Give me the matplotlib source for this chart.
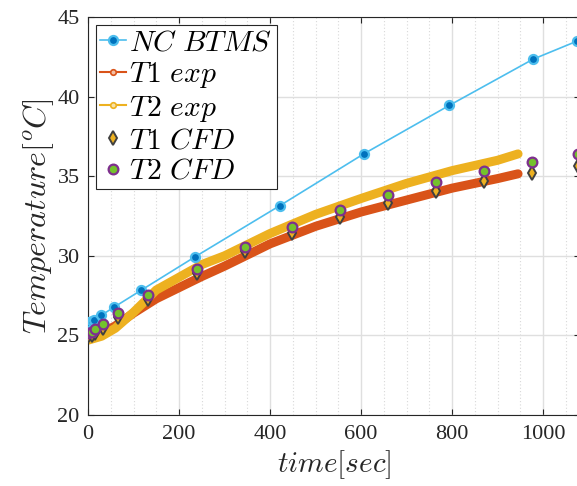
import matplotlib
matplotlib.use("Agg")
import matplotlib.pyplot as plt
from matplotlib.lines import Line2D
from matplotlib.ticker import MultipleLocator

# ---- data ----
nc_t = [0, 9, 14, 29, 57, 117, 236, 421, 607, 794, 978, 1075]
nc_T = [25.82, 25.88, 25.95, 26.26, 26.77, 27.84, 29.95, 33.14, 36.42, 39.45, 42.35, 43.49]

exp_t = [0, 30, 60, 100, 150, 200, 250, 300, 400, 500, 600, 700, 800, 900, 945]
t1_exp = [24.85, 25.15, 25.6, 26.4, 27.3, 28.0, 28.7, 29.35, 30.75, 31.85, 32.75, 33.5, 34.25, 34.85, 35.15]
t2_exp = [24.7, 24.95, 25.45, 26.45, 27.85, 28.65, 29.45, 30.0, 31.4, 32.6, 33.6, 34.55, 35.35, 36.0, 36.4]

cfd_t = [0, 9, 15, 33, 66, 132, 240, 345, 449, 554, 660, 765, 871, 976, 1076]
t1_cfd = [24.95, 25.0, 25.15, 25.45, 26.15, 27.3, 28.95, 30.3, 31.45, 32.44, 33.33, 34.09, 34.72, 35.22, 35.66]
t2_cfd = [25.13, 25.19, 25.38, 25.69, 26.39, 27.52, 29.16, 30.55, 31.81, 32.89, 33.83, 34.65, 35.35, 35.91, 36.42]

labels = [r"$NC\ BTMS$", r"$T1\ exp$", r"$T2\ exp$", r"$T1\ CFD$", r"$T2\ CFD$"]
xticks = [0, 200, 400, 600, 800, 1000]
yticks = [20, 25, 30, 35, 40, 45]

# ---- style ----
plt.rcParams["mathtext.fontset"] = "cm"
plt.rcParams["font.family"] = ["Liberation Serif", "DejaVu Serif"]

c_blue_line = "#4DBEEE"
c_blue_face = "#0072BD"
c_orange = "#D95319"
c_yellow = "#EDB120"
c_green = "#74C22C"
c_purple = "#7E2F8E"
c_dark = "#404040"
c_axis = "#262626"

fig = plt.figure(figsize=(5.77, 4.86), dpi=100)
ax = fig.add_axes([88 / 577, 71 / 486, 491.5 / 577, 398 / 486])

ax.plot(nc_t, nc_T, "-o", color=c_blue_line, lw=1.2, ms=6.5,
        mfc=c_blue_face, mec=c_blue_line, mew=1.6, zorder=3)
ax.plot(exp_t, t1_exp, "-", color=c_orange, lw=6.5, solid_capstyle="round",
        solid_joinstyle="round", zorder=2)
ax.plot(exp_t, t2_exp, "-", color=c_yellow, lw=6.5, solid_capstyle="round",
        solid_joinstyle="round", zorder=2.1)
ax.plot(cfd_t, t1_cfd, "d", ms=7.5, mfc=c_yellow, mec=c_dark, mew=1.4, zorder=4)
ax.plot(cfd_t, t2_cfd, "o", ms=7, mfc=c_green, mec=c_purple, mew=1.6, zorder=4.1)

ax.set_xlim(0, 1080)
ax.set_ylim(20, 45)
ax.set_xticks(xticks)
ax.set_yticks(yticks)
ax.xaxis.set_minor_locator(MultipleLocator(50))

ax.grid(True, which="major", color="#dfdfdf", lw=1.0, ls="-")
ax.grid(True, which="minor", axis="x", color="#d8d8d8", lw=0.8, ls=(0, (1, 2)))
ax.set_axisbelow(True)

ax.tick_params(which="major", direction="in", length=4.5, width=0.8, color=c_axis,
               top=True, right=True, labelsize=16, labelcolor=c_axis)
ax.tick_params(axis="x", which="major", pad=7)
ax.tick_params(axis="y", which="major", pad=6)
ax.tick_params(which="minor", length=0, top=False, right=False)
for s in ax.spines.values():
    s.set_color(c_axis)
    s.set_linewidth(0.8)

ax.set_xlabel(r"$time[sec]$", fontsize=21, color=c_axis, labelpad=3)
ax.set_ylabel(r"$Temperature[^oC]$", fontsize=23, color=c_axis, labelpad=1)

handles = [
    Line2D([], [], color=c_blue_line, lw=1.2, marker="o", ms=6.5,
           mfc=c_blue_face, mec=c_blue_line, mew=1.6),
    Line2D([], [], color=c_orange, lw=1.5, marker="o", ms=4,
           mfc="#f2c0a6", mec=c_orange, mew=1.2),
    Line2D([], [], color=c_yellow, lw=1.5, marker="o", ms=4,
           mfc="#f8e2a8", mec=c_yellow, mew=1.2),
    Line2D([], [], ls="none", marker="d", ms=7.5, mfc=c_yellow, mec=c_dark, mew=1.4),
    Line2D([], [], ls="none", marker="o", ms=7, mfc=c_green, mec=c_purple, mew=1.6),
]
leg = ax.legend(handles, labels, loc="upper left", bbox_to_anchor=(8 / 491.5, 1 - 8 / 398),
                fontsize=21.3, frameon=True, fancybox=False, edgecolor=c_axis,
                framealpha=1, handlelength=0.85, handletextpad=0.12,
                labelspacing=0.13, borderpad=0.15, borderaxespad=0)
leg.get_frame().set_linewidth(0.8)

fig.savefig("out.png", dpi=100)
